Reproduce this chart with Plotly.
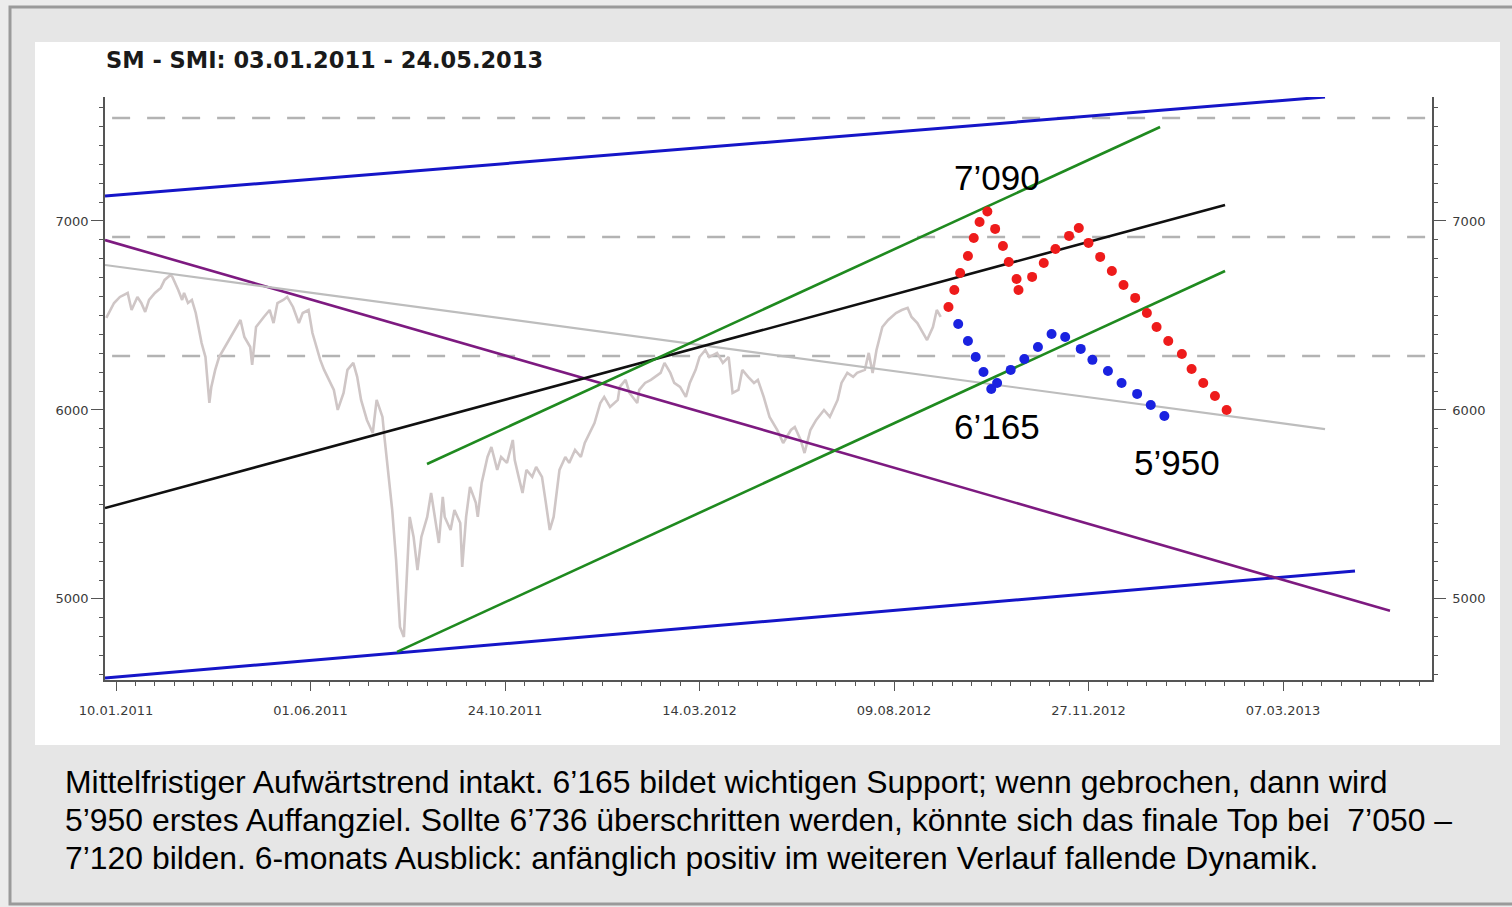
import plotly.graph_objects as go

# ---------------- data (trading-day index since 10.01.2011, SMI points) ----------------
price_idx = [-5, -1, 2, 6, 8, 11, 13, 15, 17, 20, 23, 25, 28, 29, 32, 34, 35, 37, 39, 41,
             42, 44, 46, 47, 48, 49, 51, 53, 56, 59, 62, 64, 66, 69, 70, 72, 76, 79, 81, 83,
             86, 88, 91, 94, 96, 99, 101, 105, 107, 110, 112, 114, 117, 119, 122, 124, 126, 129, 132, 134,
             137, 138, 140, 142, 144, 146, 148, 150, 151, 153, 155, 157, 160, 162, 164, 166, 168, 169, 172, 174,
             177, 178, 180, 182, 185, 186, 188, 191, 193, 196, 198, 201, 204, 205, 207, 209, 211, 214, 216, 219,
             221, 223, 225, 227, 228, 231, 233, 236, 239, 241, 244, 246, 249, 251, 254, 258, 259, 262, 264, 268,
             269, 272, 275, 277, 280, 282, 285, 287, 290, 293, 295, 298, 300, 303, 305, 309, 312, 315, 317, 320,
             322, 325, 328, 330, 333, 336, 340, 343, 347, 349, 352, 354, 357, 360, 364, 367, 371, 373, 376, 379,
             381, 385, 387, 389, 391, 394, 397, 401, 404, 407, 409, 412, 415, 417, 420, 422, 424]
price_val = [6487, 6566, 6598, 6619, 6529, 6598, 6566, 6519, 6582, 6619, 6646, 6688, 6714, 6704, 6635, 6582, 6619, 6566, 6582, 6513,
             6460, 6354, 6280, 6143, 6037, 6122, 6212, 6280, 6333, 6386, 6439, 6476, 6386, 6333, 6238, 6439, 6492, 6529, 6460, 6566,
             6582, 6598, 6545, 6460, 6513, 6529, 6407, 6265, 6212, 6143, 6106, 6000, 6090, 6212, 6249, 6175, 6053, 5947, 5878, 6053,
             5963, 5857, 5646, 5471, 5206, 4852, 4799, 5190, 5434, 5328, 5153, 5328, 5434, 5561, 5434, 5296, 5540, 5434, 5365, 5471,
             5402, 5169, 5434, 5593, 5508, 5434, 5614, 5751, 5804, 5683, 5751, 5720, 5841, 5735, 5646, 5561, 5683, 5646, 5698, 5646,
             5508, 5365, 5434, 5593, 5683, 5751, 5720, 5788, 5751, 5825, 5894, 5931, 6037, 6069, 6016, 6053, 6122, 6159, 6090, 6037,
             6106, 6143, 6159, 6175, 6196, 6249, 6196, 6143, 6122, 6069, 6143, 6212, 6280, 6317, 6280, 6302, 6249, 6280, 6090, 6106,
             6212, 6175, 6143, 6159, 6069, 5963, 5894, 5825, 5894, 5910, 5841, 5772, 5894, 5947, 6000, 5963, 6053, 6143, 6196, 6175,
             6196, 6212, 6302, 6196, 6317, 6439, 6476, 6513, 6529, 6540, 6492, 6460, 6407, 6370, 6439, 6529, 6492]

# bullish projection (red) and bearish projection (blue)
bull_idx = [428, 431, 434, 438, 441, 444, 448, 452, 456, 459, 463, 464, 471, 477, 483,
            490, 495, 500, 506, 512, 518, 524, 530, 535, 541, 548, 553, 559, 565, 571]
bull_val = [6545, 6635, 6725, 6815, 6910, 6995, 7050, 6958, 6868, 6783, 6693, 6635, 6704, 6778, 6852,
            6921, 6963, 6884, 6810, 6735, 6661, 6593, 6513, 6439, 6365, 6296, 6217, 6143, 6074, 6000]
bear_idx = [433, 438, 442, 446, 450, 453, 460, 467, 474, 481, 488, 496, 502, 510, 517, 525, 532, 539]
bear_val = [6455, 6365, 6280, 6201, 6111, 6143, 6212, 6270, 6333, 6402, 6386, 6323, 6265, 6206, 6143, 6085, 6026, 5968]

# trend lines: start / end (index, value)
trend_names = ["channel_top", "channel_bottom", "downtrend", "resistance", "uptrend",
               "green_top", "green_bottom"]
trend_x0 = [-5.66, -5.66, -5.66, -5.66, -5.66, 159.9, 144.5]
trend_y0 = [7132, 4582, 6899, 6767, 5481, 5714, 4720]
trend_x1 = [621.6, 637.0, 655.0, 621.6, 570.2, 536.8, 570.2]
trend_y1 = [7656, 5148, 4937, 5899, 7085, 7497, 6735]

# horizontal (dashed) levels
level_vals = [7545, 6915, 6286]

# price-target labels
target_text = ["7’090", "6’165", "5’950"]
target_idx = [453, 453, 545.5]
target_val = [7228, 5910, 5720]

# axis ticks
xtick_vals = [0, 100, 200, 300, 400, 500, 600]
xtick_text = ["10.01.2011", "01.06.2011", "24.10.2011", "14.03.2012", "09.08.2012", "27.11.2012", "07.03.2013"]
ytick_vals = [5000, 6000, 7000]

title_text = "SM - SMI: 03.01.2011 - 24.05.2013"
comment_lines = [
    "Mittelfristiger Aufwärtstrend intakt. 6’165 bildet wichtigen Support; wenn gebrochen, dann wird",
    "5’950 erstes Auffangziel. Sollte 6’736 überschritten werden, könnte sich das finale Top bei  7’050 –",
    "7’120 bilden. 6-monats Ausblick: anfänglich positiv im weiteren Verlauf fallende Dynamik.",
]

# ---------------- layout geometry (pixels) ----------------
W, H = 1512, 907
L, R, T, B = 105, 1432, 97, 680
X_RANGE = [-5.66, 676.6]
Y_RANGE = [4571, 7656]


def px(p):
    return (p - L) / (R - L)


def py(p):
    return (B - p) / (B - T)


trend_colors = {
    "channel_top": ("#1515c8", 3),
    "channel_bottom": ("#1515c8", 3),
    "downtrend": ("#7d1a80", 2.6),
    "resistance": ("#bdbdbd", 2.2),
    "uptrend": ("#101010", 2.6),
    "green_top": ("#1f8a1f", 2.6),
    "green_bottom": ("#1f8a1f", 2.6),
}

fig = go.Figure()

# dashed levels
for v in level_vals:
    fig.add_trace(go.Scatter(x=[-2, X_RANGE[1]], y=[v, v], mode="lines",
                             line=dict(color="#b3b3b3", width=2.5, dash="18px,17px"),
                             hoverinfo="skip"))

# price
fig.add_trace(go.Scatter(x=price_idx, y=price_val, mode="lines",
                         line=dict(color="#cfc6c6", width=2.6), hoverinfo="skip"))

# trend lines
for i, n in enumerate(trend_names):
    c, w = trend_colors[n]
    fig.add_trace(go.Scatter(x=[trend_x0[i], trend_x1[i]], y=[trend_y0[i], trend_y1[i]],
                             mode="lines", line=dict(color=c, width=w), hoverinfo="skip"))

# projections
fig.add_trace(go.Scatter(x=bull_idx, y=bull_val, mode="markers",
                         marker=dict(color="#ee1b1b", size=10, line=dict(width=0))))
fig.add_trace(go.Scatter(x=bear_idx, y=bear_val, mode="markers",
                         marker=dict(color="#1a22e0", size=10, line=dict(width=0))))

# invisible trace to anchor the right axis
fig.add_trace(go.Scatter(x=[X_RANGE[0]], y=[Y_RANGE[0]], yaxis="y2", mode="markers",
                         marker=dict(opacity=0), hoverinfo="skip"))

annotations = []
for t, xi, yv in zip(target_text, target_idx, target_val):
    annotations.append(dict(x=xi, y=yv, xref="x", yref="y", text=t, showarrow=False,
                            font=dict(family="Liberation Sans, Arial", size=35, color="#000000"),
                            xanchor="center", yanchor="middle"))

annotations.append(dict(x=px(104), y=py(60), xref="paper", yref="paper", text="<b>" + title_text + "</b>",
                        showarrow=False, xanchor="left", yanchor="middle",
                        font=dict(family="DejaVu Sans", size=22.5, color="#1a1a1a")))

for k, line in enumerate(comment_lines):
    annotations.append(dict(x=px(63), y=py(782 + 38 * k), xref="paper", yref="paper", text=line,
                            showarrow=False, xanchor="left", yanchor="middle",
                            font=dict(family="Liberation Sans, Arial", size=31.9, color="#000000")))

shapes = [
    # slide frame
    dict(type="rect", xref="paper", yref="paper", x0=px(10), x1=px(1540), y0=py(7), y1=py(904),
         line=dict(color="#9a9a9a", width=3), fillcolor="#e6e6e6", layer="below"),
    # white chart panel
    dict(type="rect", xref="paper", yref="paper", x0=px(35), x1=px(1500), y0=py(42), y1=py(745),
         line=dict(width=0), fillcolor="#ffffff", layer="below"),
]

tickfont = dict(family="DejaVu Sans", size=13, color="#3a3a3a")

fig.update_layout(
    width=W, height=H,
    margin=dict(l=L, r=W - R, t=T, b=H - B, pad=0),
    paper_bgcolor="#ececec", plot_bgcolor="rgba(0,0,0,0)",
    showlegend=False,
    annotations=annotations,
    shapes=shapes,
    xaxis=dict(range=X_RANGE, showgrid=False, zeroline=False,
               tickvals=xtick_vals, ticktext=xtick_text, tickfont=tickfont,
               ticks="outside", ticklen=9, tickcolor="#555555", tickwidth=1.2,
               ticklabelstandoff=9,
               showline=True, linecolor="#555555", linewidth=1.5,
               minor=dict(dtick=10, tick0=0, ticks="outside", ticklen=4, tickcolor="#555555", tickwidth=1),
               ),
    yaxis=dict(range=Y_RANGE, showgrid=False, zeroline=False,
               tickvals=ytick_vals, tickfont=tickfont, side="left",
               ticks="outside", ticklen=12, tickcolor="#555555", tickwidth=1.2,
               showline=True, linecolor="#555555", linewidth=1.5,
               minor=dict(dtick=100, tick0=0, ticks="outside", ticklen=4, tickcolor="#555555", tickwidth=1),
               ),
    yaxis2=dict(range=Y_RANGE, overlaying="y", side="right", showgrid=False, zeroline=False,
                tickvals=ytick_vals, tickfont=tickfont,
                ticks="outside", ticklen=12, tickcolor="#555555", tickwidth=1.2,
                ticklabelstandoff=4,
                showline=True, linecolor="#555555", linewidth=1.5,
                minor=dict(dtick=100, tick0=0, ticks="outside", ticklen=4, tickcolor="#555555", tickwidth=1),
                ),
)

fig.write_html("out.html", config={"displayModeBar": False},
               post_script="document.body.style.margin='0';document.body.style.overflow='hidden';")
